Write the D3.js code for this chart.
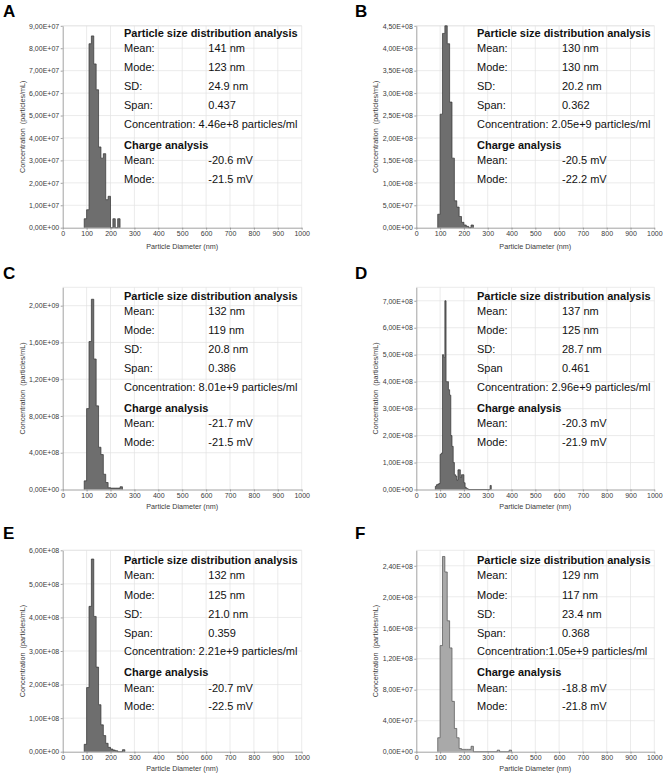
<!DOCTYPE html>
<html>
<head>
<meta charset="utf-8">
<script src="https://cdn.jsdelivr.net/npm/d3@7"></script>
<style>
  body { margin: 0; background: #fff; }
  text { font-family: "Liberation Sans", Arial, sans-serif; }
  .axis .tick text { fill: #3a3a3a; font-size: 7px; }
  .axis path, .axis line { stroke: #8a8a8a; stroke-width: 0.8; }
  .grid line { stroke: #e2e2e2; stroke-width: 0.7; }
  .info { font-size: 11px; fill: #111; }
  .info.head { font-weight: bold; }
  .letter { font-size: 17px; font-weight: bold; fill: #000; }
  .atitle { font-size: 7.2px; fill: #3a3a3a; white-space: pre; }
</style>
</head>
<body>
<div id="chart"></div>
<script>
// x axis (nm)
var xTicks = [0, 100, 200, 300, 400, 500, 600, 700, 800, 900, 1000];

// A
var binsA = [90, 100, 110, 120, 130, 140, 150, 160, 170, 180, 190, 200, 210, 220, 230];
var concA = [0.4e7, 0.8e7, 8.2e7, 8.55e7, 7.3e7, 6.15e7, 3.6e7, 3.1e7, 3.3e7, 1.25e7, 1.4e7, 0, 0.4e7, 0, 0.4e7];
var yTicksA = [0, 1e7, 2e7, 3e7, 4e7, 5e7, 6e7, 7e7, 8e7, 9e7];
var statsA = ["141 nm", "123 nm", "24.9 nm", "0.437"];
var concTextA = "Concentration: 4.46e+8 particles/ml";
var chargeA = ["-20.6 mV", "-21.5 mV"];

// B
var binsB = [90, 100, 110, 120, 130, 140, 150, 160, 170, 180, 190, 200, 210, 220, 230];
var concB = [0.3e8, 2.53e8, 4.33e8, 4.5e8, 4.1e8, 2.8e8, 1.55e8, 0.6e8, 0.46e8, 0.25e8, 0.12e8, 0.06e8, 0.03e8, 0, 0.06e8];
var yTicksB = [0, 5e7, 1e8, 1.5e8, 2e8, 2.5e8, 3e8, 3.5e8, 4e8, 4.5e8];
var statsB = ["130 nm", "130 nm", "20.2 nm", "0.362"];
var concTextB = "Concentration: 2.05e+9 particles/ml";
var chargeB = ["-20.5 mV", "-22.2 mV"];

// C
var binsC = [90, 100, 110, 120, 130, 140, 150, 160, 170, 180, 190, 200, 210, 220, 230, 240];
var concC = [0.94e8, 8.8e8, 1.61e9, 2.07e9, 1.42e9, 9.1e8, 4.6e8, 3.8e8, 1.66e8, 0.76e8, 0.2e8, 0.15e8, 0.15e8, 0.15e8, 0.15e8, 0.3e8];
var yTicksC = [0, 4e8, 8e8, 1.2e9, 1.6e9, 2e9];
var statsC = ["132 nm", "119 nm", "20.8 nm", "0.386"];
var concTextC = "Concentration: 8.01e+9 particles/ml";
var chargeC = ["-21.7 mV", "-21.5 mV"];

// D (finer bins)
var binsD = [80, 85, 90, 95, 100, 105, 110, 115, 120, 125, 130, 135, 140, 145, 150, 155, 160, 165, 170, 175, 180, 185, 190, 195, 200, 205, 210, 215, 310];
var concD = [0.12e8, 0.18e8, 0.2e8, 0.22e8, 1.3e8, 1.35e8, 5.0e8, 4.9e8, 7.0e8, 4.0e8, 4.0e8, 3.7e8, 3.5e8, 2.0e8, 1.6e8, 1.0e8, 0.55e8, 0.5e8, 0.35e8, 0.73e8, 0.73e8, 0.45e8, 0.55e8, 0.55e8, 0.25e8, 0.08e8, 0.04e8, 0.02e8, 0.15e8];
var yTicksD = [0, 1e8, 2e8, 3e8, 4e8, 5e8, 6e8, 7e8];
var statsD = ["137 nm", "125 nm", "28.7 nm", "0.461"];
var concTextD = "Concentration: 2.96e+9 particles/ml";
var chargeD = ["-20.3 mV", "-21.9 mV"];

// E
var binsE = [90, 100, 110, 120, 130, 140, 150, 160, 170, 180, 190, 200, 210, 220, 230, 240, 250];
var concE = [0.22e8, 1.91e8, 4.33e8, 5.74e8, 4.03e8, 2.52e8, 1.4e8, 0.8e8, 0.48e8, 0.25e8, 0.13e8, 0.08e8, 0.05e8, 0.03e8, 0, 0, 0.06e8];
var yTicksE = [0, 1e8, 2e8, 3e8, 4e8, 5e8, 6e8];
var statsE = ["132 nm", "125 nm", "21.0 nm", "0.359"];
var concTextE = "Concentration: 2.21e+9 particles/ml";
var chargeE = ["-20.7 mV", "-22.5 mV"];

// F
var binsF = [90, 100, 110, 120, 130, 140, 150, 160, 170, 180, 190, 200, 210, 220, 230, 340, 390];
var concF = [0.18e8, 1.37e8, 2.52e8, 2.32e8, 1.69e8, 1.34e8, 0.65e8, 0.3e8, 0.18e8, 0.04e8, 0.03e8, 0.03e8, 0.03e8, 0.03e8, 0.07e8, 0.02e8, 0.02e8];
var yTicksF = [0, 4e7, 8e7, 1.2e8, 1.6e8, 2e8, 2.4e8];
var statsF = ["129 nm", "117 nm", "23.4 nm", "0.368"];
var concTextF = "Concentration:1.05e+9 particles/ml";
var chargeF = ["-18.8 mV", "-21.8 mV"];

var panels = [
  { letter: "A", col: 0, row: 0, bins: binsA, conc: concA, bw: 10, yTicks: yTicksA, yMax: 9e7, stats: statsA, concText: concTextA, charge: chargeA, span: "Span:" },
  { letter: "B", col: 1, row: 0, bins: binsB, conc: concB, bw: 10, yTicks: yTicksB, yMax: 4.5e8, stats: statsB, concText: concTextB, charge: chargeB, span: "Span:" },
  { letter: "C", col: 0, row: 1, bins: binsC, conc: concC, bw: 10, yTicks: yTicksC, yMax: 2.2e9, stats: statsC, concText: concTextC, charge: chargeC, span: "Span:" },
  { letter: "D", col: 1, row: 1, bins: binsD, conc: concD, bw: 5, yTicks: yTicksD, yMax: 7.5e8, stats: statsD, concText: concTextD, charge: chargeD, span: "Span" },
  { letter: "E", col: 0, row: 2, bins: binsE, conc: concE, bw: 10, yTicks: yTicksE, yMax: 6e8, stats: statsE, concText: concTextE, charge: chargeE, span: "Span:" },
  { letter: "F", col: 1, row: 2, bins: binsF, conc: concF, bw: 10, yTicks: yTicksF, yMax: 2.6e8, stats: statsF, concText: concTextF, charge: chargeF, span: "Span:", light: true }
];

// layout
var colLeft = [62.7, 416.3], colRight = [301.7, 654.3];
var rowTop = [25.8, 287.3, 550.3], rowBottom = [227.7, 489.5, 751.7];
var letterX = [3, 355], letterY = [17, 279, 539];
var yTitleX = [22.7, 375];
var xTitleOff = [21.5, 19, 19];
var infoTop = [36.7, 300, 564.3];
var labelX = [124, 477], valueX = [208.3, 562];

function sci(v) {
  if (v === 0) return "0,00E+00";
  var e = Math.floor(Math.log10(v) + 1e-9);
  var m = v / Math.pow(10, e);
  return m.toFixed(2).replace(".", ",") + "E+" + (e < 10 ? "0" : "") + e;
}

var svg = d3.select("#chart").append("svg")
    .attr("width", 664)
    .attr("height", 775);

panels.forEach(function(p) {
  var x0 = colLeft[p.col], x1 = colRight[p.col];
  var y0 = rowBottom[p.row], y1 = rowTop[p.row];

  var x = d3.scaleLinear().domain([0, 1000]).range([x0, x1]);
  var y = d3.scaleLinear().domain([0, p.yMax]).range([y0, y1]);

  var g = svg.append("g");

  // grid
  var grid = g.append("g").attr("class", "grid");
  grid.selectAll(".vx").data(xTicks.slice(1)).enter().append("line")
      .attr("x1", function(d) { return x(d); }).attr("x2", function(d) { return x(d); })
      .attr("y1", y0).attr("y2", y1);
  grid.selectAll(".hy").data(p.yTicks.slice(1).concat([p.yMax])).enter().append("line")
      .attr("x1", x0).attr("x2", x1)
      .attr("y1", function(d) { return y(d); }).attr("y2", function(d) { return y(d); });

  // histogram: step shape built from the bins
  var fill = p.light ? "#a9a9a9" : "#6e6e6e";
  var edge = p.light ? "#505050" : "#333";
  var data = p.bins.map(function(b, i) { return { b: b, v: p.conc[i] }; });
  var pts = [[data[0].b, 0]];
  data.forEach(function(d, i) {
    if (i > 0 && data[i - 1].b + p.bw < d.b) {
      pts.push([data[i - 1].b + p.bw, 0]);
      pts.push([d.b, 0]);
    }
    pts.push([d.b, d.v]);
    pts.push([d.b + p.bw, d.v]);
  });
  pts.push([data[data.length - 1].b + p.bw, 0]);

  g.append("path")
      .attr("d", d3.area().x(function(d) { return x(d[0]); }).y0(y(0)).y1(function(d) { return y(d[1]); })(pts))
      .style("fill", fill)
      .style("stroke", "none");

  g.append("path")
      .attr("d", d3.line().x(function(d) { return x(d[0]); }).y(function(d) { return y(d[1]); })(pts))
      .style("fill", "none")
      .style("stroke", edge)
      .style("stroke-width", 0.7);

  // axes
  g.append("g").attr("class", "axis")
      .attr("transform", "translate(0," + y0 + ")")
      .call(d3.axisBottom(x).tickValues(xTicks).tickFormat(d3.format("d")).tickSize(2).tickPadding(1.5).tickSizeOuter(0));
  g.append("g").attr("class", "axis")
      .attr("transform", "translate(" + x0 + ",0)")
      .call(d3.axisLeft(y).tickValues(p.yTicks).tickFormat(sci).tickSize(2).tickPadding(1.5).tickSizeOuter(0));

  // axis titles
  g.append("text").attr("class", "atitle")
      .attr("x", (x0 + x1) / 2).attr("y", y0 + xTitleOff[p.row])
      .attr("text-anchor", "middle")
      .text("Particle Diameter (nm)");
  g.append("text").attr("class", "atitle")
      .attr("transform", "translate(" + (yTitleX[p.col] + 2.5) + "," + ((y0 + y1) / 2) + ") rotate(-90)")
      .attr("text-anchor", "middle")
      .text("Concentration  (particles/mL)");

  // panel letter
  g.append("text").attr("class", "letter")
      .attr("x", letterX[p.col]).attr("y", letterY[p.row])
      .text(p.letter);

  // info block
  var ty = infoTop[p.row], lx = labelX[p.col], vx = valueX[p.col];
  var rows = [
    { t: "Particle size distribution analysis", dy: 0, head: true },
    { t: "Mean:", v: p.stats[0], dy: 15 },
    { t: "Mode:", v: p.stats[1], dy: 34.2 },
    { t: "SD:", v: p.stats[2], dy: 53.2 },
    { t: p.span, v: p.stats[3], dy: 72.2 },
    { t: p.concText, dy: 91 },
    { t: "Charge analysis", dy: 111.8, head: true },
    { t: "Mean:", v: p.charge[0], dy: 127.2 },
    { t: "Mode:", v: p.charge[1], dy: 145.8 }
  ];
  rows.forEach(function(r) {
    g.append("text").attr("class", r.head ? "info head" : "info")
        .attr("x", lx).attr("y", ty + r.dy).text(r.t);
    if (r.v) {
      g.append("text").attr("class", "info")
          .attr("x", vx).attr("y", ty + r.dy).text(r.v);
    }
  });
});
</script>
</body>
</html>
